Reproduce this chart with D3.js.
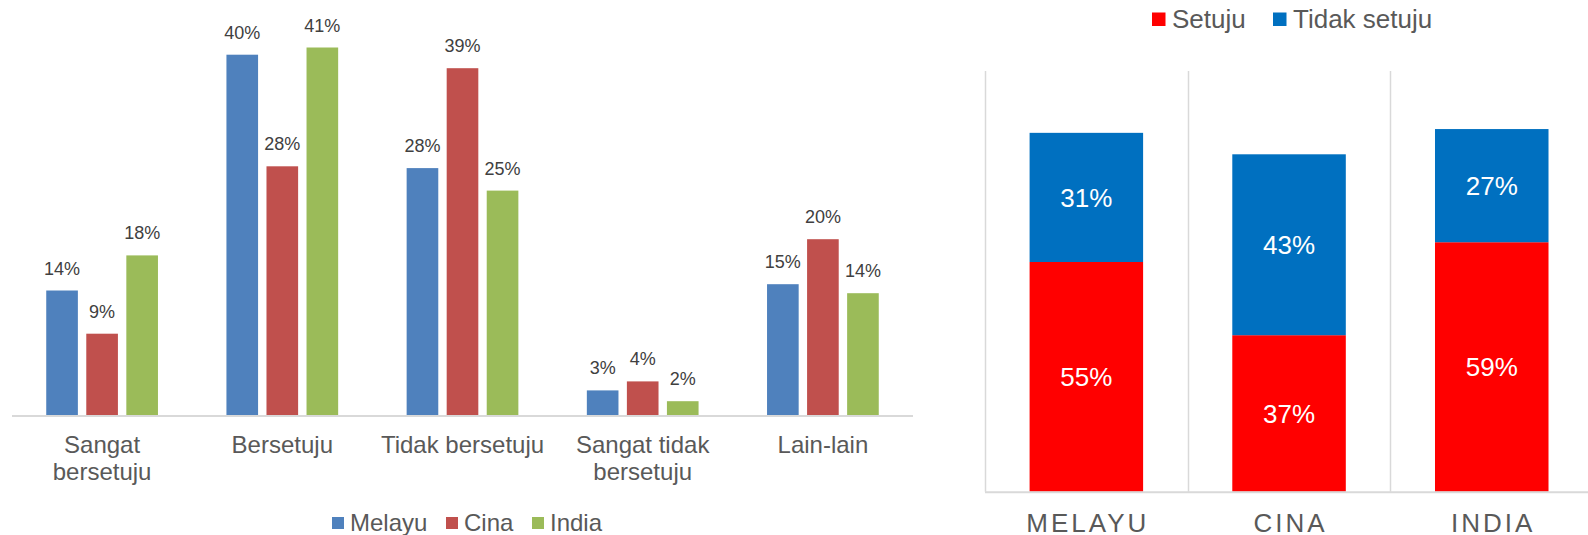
<!DOCTYPE html>
<html>
<head>
<meta charset="utf-8">
<script src="https://cdn.jsdelivr.net/npm/d3@7"></script>
<style>
  body { margin: 0; background: #fff; }
  svg { display: block; font-family: "Liberation Sans", Arial, sans-serif; }
</style>
</head>
<body>
<div id="chart"></div>
<script>
// left chart: response by group
var categories = [["Sangat", "bersetuju"], ["Bersetuju"], ["Tidak bersetuju"], ["Sangat tidak", "bersetuju"], ["Lain-lain"]];
var groups = ["Melayu", "Cina", "India"];
var melayu = [0.139, 0.401, 0.275, 0.028, 0.146];
var cina   = [0.091, 0.277, 0.386, 0.038, 0.196];
var india  = [0.178, 0.409, 0.250, 0.016, 0.136];
var groupColors = ["#4F81BD", "#C0504D", "#9BBB59"];

// right chart: agree / disagree
var races = ["MELAYU", "CINA", "INDIA"];
var setuju = [0.546, 0.372, 0.593];
var tidakSetuju = [0.307, 0.430, 0.269];
var stackKeys = ["Setuju", "Tidak setuju"];
var stackColors = ["#FF0000", "#0070C0"];

var width = 1588, height = 535;
var svg = d3.select("#chart").append("svg").attr("width", width).attr("height", height);

var series = [melayu, cina, india];

// ---- left grouped bars
var x0 = d3.scaleBand().domain(d3.range(categories.length)).range([12, 913])
    .paddingInner(0.38).paddingOuter(0.19);
var x1 = d3.scaleBand().domain(d3.range(groups.length)).range([0, x0.bandwidth()]).paddingInner(0.21);
var y = d3.scaleLinear().domain([0, 0.45]).range([415.6, 10.6]);

var left = svg.append("g");
var cat = left.selectAll(".cat").data(categories).enter().append("g")
    .attr("transform", function(d, i) { return "translate(" + x0(i) + ",0)"; });

cat.selectAll("rect").data(function(d, i) { return series.map(function(s, k) { return {k: k, v: s[i]}; }); })
  .enter().append("rect")
    .attr("x", function(d) { return x1(d.k); })
    .attr("y", function(d) { return y(d.v); })
    .attr("width", x1.bandwidth())
    .attr("height", function(d) { return y(0) - y(d.v); })
    .attr("fill", function(d) { return groupColors[d.k]; });

cat.selectAll("text.val").data(function(d, i) { return series.map(function(s, k) { return {k: k, v: s[i]}; }); })
  .enter().append("text")
    .attr("class", "val")
    .attr("x", function(d) { return x1(d.k) + x1.bandwidth() / 2; })
    .attr("y", function(d) { return y(d.v) - 16; })
    .attr("text-anchor", "middle")
    .attr("font-size", 18)
    .attr("fill", "#404040")
    .text(function(d) { return Math.round(d.v * 100) + "%"; });

left.append("line")
    .attr("x1", 12).attr("x2", 913).attr("y1", y(0) + 0.5).attr("y2", y(0) + 0.5)
    .attr("stroke", "#d9d9d9").attr("stroke-width", 2);

// category labels, may wrap to two lines
categories.forEach(function(lines, i) {
  var t = left.append("text")
      .attr("text-anchor", "middle")
      .attr("font-size", 24)
      .attr("fill", "#595959");
  lines.forEach(function(line, j) {
    t.append("tspan")
      .attr("x", x0(i) + x0.bandwidth() / 2)
      .attr("y", 453 + j * 27)
      .text(line);
  });
});

// legend for left
var legL = left.append("g");
var legX = [332, 446, 532];
groups.forEach(function(g, i) {
  legL.append("rect").attr("x", legX[i]).attr("y", 517).attr("width", 12).attr("height", 12)
      .attr("fill", groupColors[i]);
  legL.append("text").attr("x", legX[i] + 18).attr("y", 531)
      .attr("font-size", 24).attr("fill", "#595959").text(g);
});

// ---- right stacked bars
var xr = d3.scaleBand().domain(races).range([985, 985 + 3 * 202.7])
    .paddingInner(0.44).paddingOuter(0.22);
var yr = d3.scaleLinear().domain([0, 1]).range([491.7, 71]);

var right = svg.append("g");

// vertical separators between categories
var seps = d3.range(races.length).map(function(i) { return xr.range()[0] + i * xr.step(); });
right.selectAll("line.sep").data(seps).enter().append("line")
    .attr("x1", function(d) { return Math.round(d) + 0.5; })
    .attr("x2", function(d) { return Math.round(d) + 0.5; })
    .attr("y1", yr(1)).attr("y2", yr(0))
    .attr("stroke", "#d9d9d9").attr("stroke-width", 1.5);

var stackData = races.map(function(r, i) { return {race: r, "Setuju": setuju[i], "Tidak setuju": tidakSetuju[i]}; });
var stacked = d3.stack().keys(stackKeys)(stackData);

var layer = right.selectAll(".layer").data(stacked).enter().append("g")
    .attr("fill", function(d, i) { return stackColors[i]; });

layer.selectAll("rect").data(function(d) { return d; }).enter().append("rect")
    .attr("x", function(d) { return xr(d.data.race); })
    .attr("y", function(d) { return yr(d[1]); })
    .attr("width", xr.bandwidth())
    .attr("height", function(d) { return yr(d[0]) - yr(d[1]); });

layer.selectAll("text").data(function(d) { return d; }).enter().append("text")
    .attr("x", function(d) { return xr(d.data.race) + xr.bandwidth() / 2; })
    .attr("y", function(d) { return (yr(d[0]) + yr(d[1])) / 2; })
    .attr("dy", "0.36em")
    .attr("text-anchor", "middle")
    .attr("font-size", 26)
    .attr("fill", "#fff")
    .text(function(d) { return Math.round((d[1] - d[0]) * 100) + "%"; });

right.append("line")
    .attr("x1", 985).attr("x2", width).attr("y1", yr(0) + 0.5).attr("y2", yr(0) + 0.5)
    .attr("stroke", "#d9d9d9").attr("stroke-width", 2);

right.selectAll("text.race").data(races).enter().append("text")
    .attr("class", "race")
    .attr("x", function(d) { return xr(d) + xr.bandwidth() / 2 + 1.5; })
    .attr("y", 532)
    .attr("text-anchor", "middle")
    .attr("font-size", 26)
    .attr("letter-spacing", 3)
    .attr("fill", "#595959")
    .text(function(d) { return d; });

// legend for right
var legR = right.append("g");
var legRX = [1152, 1273];
stackKeys.forEach(function(k, i) {
  legR.append("rect").attr("x", legRX[i]).attr("y", 12.5).attr("width", 13.5).attr("height", 13.5)
      .attr("fill", stackColors[i]);
  legR.append("text").attr("x", legRX[i] + 20).attr("y", 28)
      .attr("font-size", 26).attr("fill", "#595959").text(k);
});
</script>
</body>
</html>
